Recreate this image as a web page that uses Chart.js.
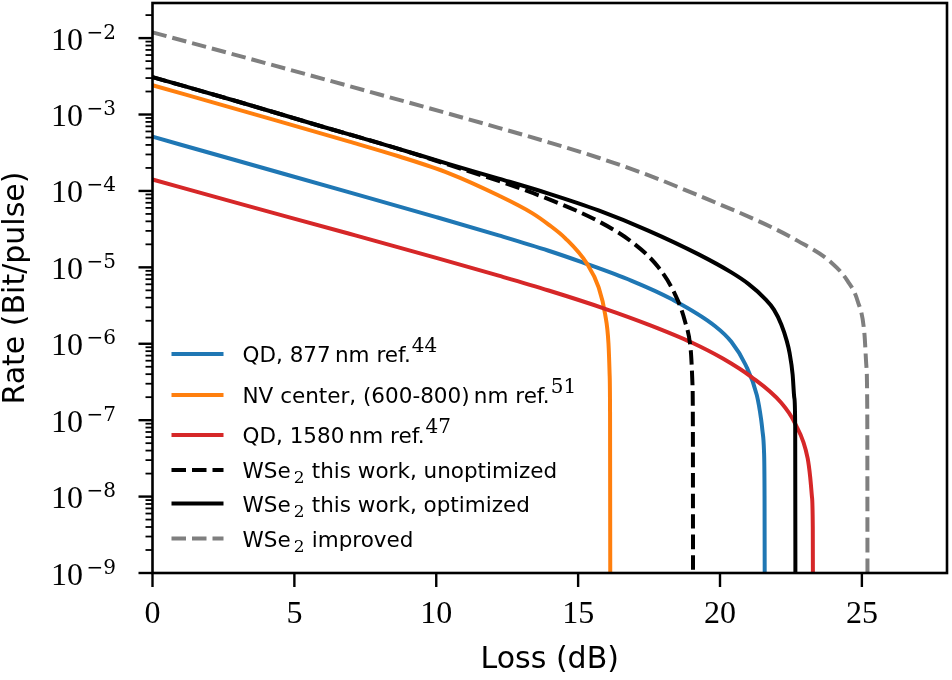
<!DOCTYPE html>
<html>
<head>
<meta charset="utf-8">
<script src="https://cdn.jsdelivr.net/npm/chart.js@4/dist/chart.umd.min.js"></script>
<style>
  html, body { margin: 0; padding: 0; background: #ffffff; }
  #c { display: block; }
</style>
</head>
<body>
<canvas id="c" width="952" height="680"></canvas>
<script>
// ---------- data ----------
const xTickValues = [0, 5, 10, 15, 20, 25];
const yMajorExponents = [-9, -8, -7, -6, -5, -4, -3, -2];
const xRange = [0, 28];
const yRange = [1e-9, 0.0288];

const qd877X = [0, 3, 6.94, 10, 12.2, 13.96, 15.13, 16.89, 18.29, 19.82, 20.4, 20.9, 21.3, 21.45, 21.5, 21.55, 21.57, 21.58];
const qd877Y = [5.13e-4, 2.48e-4, 9.57e-5, 4.54e-5, 2.62e-5, 1.65e-5, 1.17e-5, 6.67e-6, 3.85e-6, 1.71e-6, 1.06e-6, 5.31e-7, 2.11e-7, 1.02e-7, 7.08e-8, 3.98e-8, 1.0e-8, 1e-10];

const nvX = [0, 3.42, 6.94, 8.7, 10.45, 12.2, 13.38, 13.96, 14.55, 15.31, 15.72, 15.95, 16.07, 16.11, 16.125, 16.135];
const nvY = [2.42e-3, 1.05e-3, 4.42e-4, 2.82e-4, 1.70e-4, 8.71e-5, 5.13e-5, 3.63e-5, 2.40e-5, 1.12e-5, 5.50e-6, 2.45e-6, 1.0e-6, 3.98e-7, 1.26e-7, 1e-10];

const qd1580X = [0, 3, 6.94, 10, 12.2, 13.96, 15.95, 17.5, 19.0, 20.1, 21.1, 22.15, 22.63, 23.09, 23.18, 23.24, 23.27, 23.28];
const qd1580Y = [1.41e-4, 6.93e-5, 2.75e-5, 1.33e-5, 7.78e-6, 4.98e-6, 2.87e-6, 1.77e-6, 1.04e-6, 6.41e-7, 3.69e-7, 1.70e-7, 9.27e-8, 3.16e-8, 1.78e-8, 1.0e-8, 3.98e-9, 1e-10];

const wseUnoptX = [0, 3, 6, 8.5, 10.45, 12.2, 13.96, 15.72, 16.89, 17.83, 18.41, 18.76, 18.97, 19.03, 19.045, 19.05];
const wseUnoptY = [3.09e-3, 1.48e-3, 6.92e-4, 3.72e-4, 2.19e-4, 1.35e-4, 7.80e-5, 4.00e-5, 2.15e-5, 1.0e-5, 4.47e-6, 2.0e-6, 8.13e-7, 2.95e-7, 6.3e-8, 1e-10];

const wseOptX = [0, 3, 6, 8.5, 10.45, 12.2, 13.96, 15.72, 17.47, 19.23, 20.4, 21.0, 21.57, 21.9, 22.16, 22.35, 22.45, 22.56, 22.62, 22.65, 22.66];
const wseOptY = [3.09e-3, 1.48e-3, 6.92e-4, 3.72e-4, 2.24e-4, 1.45e-4, 9.23e-5, 5.56e-5, 3.03e-5, 1.49e-5, 8.59e-6, 6.08e-6, 3.94e-6, 2.80e-6, 1.79e-6, 1.10e-6, 7.64e-7, 3.95e-7, 1.95e-7, 8.51e-8, 1e-10];

const wseImpX = [0, 4, 8, 12.2, 13.96, 15.72, 17.47, 19.23, 21.57, 22.74, 23.91, 24.5, 24.85, 25.09, 25.16, 25.19, 25.2];
const wseImpY = [1.19e-2, 4.69e-3, 1.83e-3, 6.70e-4, 4.33e-4, 2.72e-4, 1.61e-4, 8.75e-5, 3.70e-5, 2.22e-5, 1.17e-5, 6.61e-6, 3.63e-6, 1.35e-6, 5.01e-7, 1.26e-7, 1e-10];

// legend labels: [text, kind]
const legendLabels = [
  [['QD, 877\u2009nm ref.', 'n'], ['44', 'sup']],
  [['NV center, (600-800)\u2009nm ref.', 'n'], ['51', 'sup']],
  [['QD, 1580\u2009nm ref.', 'n'], ['47', 'sup']],
  [['WSe', 'n'], ['2', 'sub'], [' this work, unoptimized', 'n']],
  [['WSe', 'n'], ['2', 'sub'], [' this work, optimized', 'n']],
  [['WSe', 'n'], ['2', 'sub'], [' improved', 'n']]
];
const xTitle = 'Loss (dB)';
const yTitle = 'Rate (Bit/pulse)';

// ---------- chart ----------
const seriesX = [qd877X, nvX, qd1580X, wseUnoptX, wseOptX, wseImpX];
const seriesY = [qd877Y, nvY, qd1580Y, wseUnoptY, wseOptY, wseImpY];
const colors = ['#1f77b4', '#ff7f0e', '#d62728', '#000000', '#000000', '#7f7f7f'];
const dashes = [[], [], [], [14.5, 6], [], [14.5, 6]];
const LW = 4;

const datasets = seriesX.map((xs, i) => ({
  label: legendLabels[i].map(p => p[0]).join(''),
  data: xs.map((x, j) => ({ x: x, y: seriesY[i][j] })),
  showLine: true,
  borderColor: colors[i],
  backgroundColor: colors[i],
  borderWidth: LW,
  borderDash: dashes[i],
  borderJoinStyle: 'round',
  borderCapStyle: 'butt',
  pointRadius: 0,
  pointHoverRadius: 0,
  cubicInterpolationMode: 'monotone',
  fill: false,
  clip: 0,
  order: 10 - i
}));

function line(ctx, x0, y0, x1, y1) {
  ctx.beginPath(); ctx.moveTo(x0, y0); ctx.lineTo(x1, y1); ctx.stroke();
}

const deco = {
  id: 'deco',
  afterDraw(chart) {
    const { ctx, chartArea: a, scales: { x, y } } = chart;
    ctx.save();
    ctx.strokeStyle = '#000';
    ctx.setLineDash([]);
    ctx.lineCap = 'butt';

    // minor y ticks
    ctx.lineWidth = 1.8;
    yMajorExponents.forEach(e => {
      for (let k = 2; k <= 9; k++) {
        const v = k * Math.pow(10, e);
        if (v > yRange[1]) break;
        const p = y.getPixelForValue(v);
        line(ctx, a.left - 7, p, a.left, p);
      }
    });
    // major y ticks
    ctx.lineWidth = 2.4;
    yMajorExponents.forEach(e => {
      const p = y.getPixelForValue(Math.pow(10, e));
      line(ctx, a.left - 14, p, a.left, p);
    });
    // x ticks
    xTickValues.forEach(v => {
      const p = x.getPixelForValue(v);
      line(ctx, p, a.bottom, p, a.bottom + 14);
    });
    // frame
    ctx.lineWidth = 2.6;
    ctx.strokeRect(a.left, a.top, a.right - a.left, a.bottom - a.top);

    // y tick labels 10^-k
    ctx.fillStyle = '#000';
    ctx.textBaseline = 'alphabetic';
    yMajorExponents.forEach(e => {
      const p = y.getPixelForValue(Math.pow(10, e));
      ctx.font = '32px "Liberation Serif"';
      ctx.textAlign = 'right';
      ctx.fillText('10', a.left - 69.5, p + 11.5);
      ctx.font = '20px "DejaVu Serif"';
      ctx.textAlign = 'left';
      ctx.fillText('\u2212' + Math.abs(e), a.left - 66, p + 0.5);
    });

    // legend
    const rowOffsets = [219, 178, 138, 103, 69.5, 34.5];
    const lx0 = a.left + 19, lx1 = a.left + 71, tx = a.left + 90;
    legendLabels.forEach((parts, i) => {
      const ly = a.bottom - rowOffsets[i];
      ctx.strokeStyle = colors[i];
      ctx.lineWidth = LW;
      ctx.setLineDash(dashes[i]);
      line(ctx, lx0, ly, lx1, ly);
      ctx.setLineDash([]);
      const base = ly + 8.3;
      let cx = tx;
      ctx.textAlign = 'left';
      ctx.fillStyle = '#000';
      parts.forEach(([t, kind]) => {
        if (kind === 'n') {
          ctx.font = '21.5px "DejaVu Sans"';
          ctx.fillText(t, cx, base);
          cx += ctx.measureText(t).width;
        } else if (kind === 'sup') {
          ctx.font = '20px "DejaVu Serif"';
          ctx.fillText(t, cx + 1, base - 10.8);
          cx += ctx.measureText(t).width + 1;
        } else {
          ctx.font = '17px "DejaVu Serif"';
          ctx.fillText(t, cx + 3, base + 5);
          cx += ctx.measureText(t).width + 3.5;
        }
      });
    });
    ctx.restore();
  }
};

new Chart(document.getElementById('c'), {
  type: 'scatter',
  data: { datasets: datasets },
  options: {
    responsive: false,
    animation: false,
    devicePixelRatio: 1,
    layout: { padding: { left: 0, right: 5, top: 3, bottom: 0 } },
    plugins: { legend: { display: false }, tooltip: { enabled: false } },
    elements: { line: { tension: 0 } },
    scales: {
      x: {
        type: 'linear',
        min: xRange[0],
        max: xRange[1],
        afterBuildTicks: s => { s.ticks = xTickValues.map(v => ({ value: v })); },
        afterFit: s => { s.height = 107; },
        grid: { display: false, drawTicks: false },
        border: { display: false },
        ticks: {
          color: '#000',
          font: { family: 'Liberation Serif', size: 32 },
          padding: 22,
          maxRotation: 0,
          autoSkip: false
        },
        title: {
          display: true, text: xTitle, color: '#000',
          font: { family: 'DejaVu Sans', size: 30 },
          padding: { top: 0, bottom: 2 }
        }
      },
      y: {
        type: 'logarithmic',
        min: yRange[0],
        max: yRange[1],
        afterFit: s => { s.width = 152.5; },
        grid: { display: false, drawTicks: false },
        border: { display: false },
        ticks: { display: false },
        title: {
          display: true, text: yTitle, color: '#000',
          font: { family: 'DejaVu Sans', size: 30, lineHeight: 1.1 },
          padding: { top: 0, bottom: 0 }
        }
      }
    }
  },
  plugins: [deco]
});
</script>
</body>
</html>
